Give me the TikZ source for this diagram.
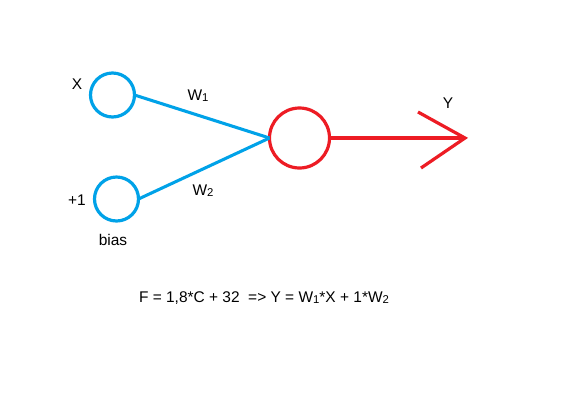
\documentclass[tikz,border=0pt]{standalone}
\usepackage{fontspec}
\setmainfont{Liberation Sans}
\definecolor{pblue}{RGB}{0,162,232}
\definecolor{pred}{RGB}{237,28,36}
\newcommand{\sbd}[1]{\raisebox{-0.6pt}{\fontsize{8.5pt}{9pt}\selectfont #1}}
\begin{document}
\begin{tikzpicture}[x=0.75pt,y=-0.75pt,
  every node/.style={font=\fontsize{11.6pt}{13pt}\selectfont, inner sep=0pt},
  inneuron/.style={circle, draw=pblue, line width=2.4pt, minimum size=33pt, outer sep=0pt},
  outneuron/.style={circle, draw=pred, line width=2.4pt, minimum size=45pt, outer sep=0pt},
  wline/.style={draw=pblue, line width=2.3pt},
  rline/.style={draw=pred, line width=2.4pt}]
\useasboundingbox (0,0) rectangle (581,401);
\fill[white] (0,0) rectangle (581,401);
\node[inneuron] (x) at (112.5,95) {};
\node[inneuron] (b) at (116.5,199) {};
\node[outneuron] (n) at (299.5,138) {};
\coordinate (tip) at (465,138);
\coordinate (hu) at (418,112);
\coordinate (hl) at (421,168);
\draw[wline] (x.east) -- (n.west);
\draw[wline] (b.east) -- (n.west);
\draw[rline] (n.east) -- (tip);
\draw[rline] (hu) -- (tip) -- (hl);
\node (lx) at (77,84) {X};
\node (lw1) at (198,96) {W\sbd{1}};
\node (lw2) at (203,191) {W\sbd{2}};
\node (lp1) at (77,200) {+1};
\node (lbias) at (113,240) {bias};
\node (ly) at (448,103) {Y};
\node (f) at (264,298) {F = 1,8*C + 32 \ => Y = W\sbd{1}*X + 1*W\sbd{2}};
\end{tikzpicture}
\end{document}
